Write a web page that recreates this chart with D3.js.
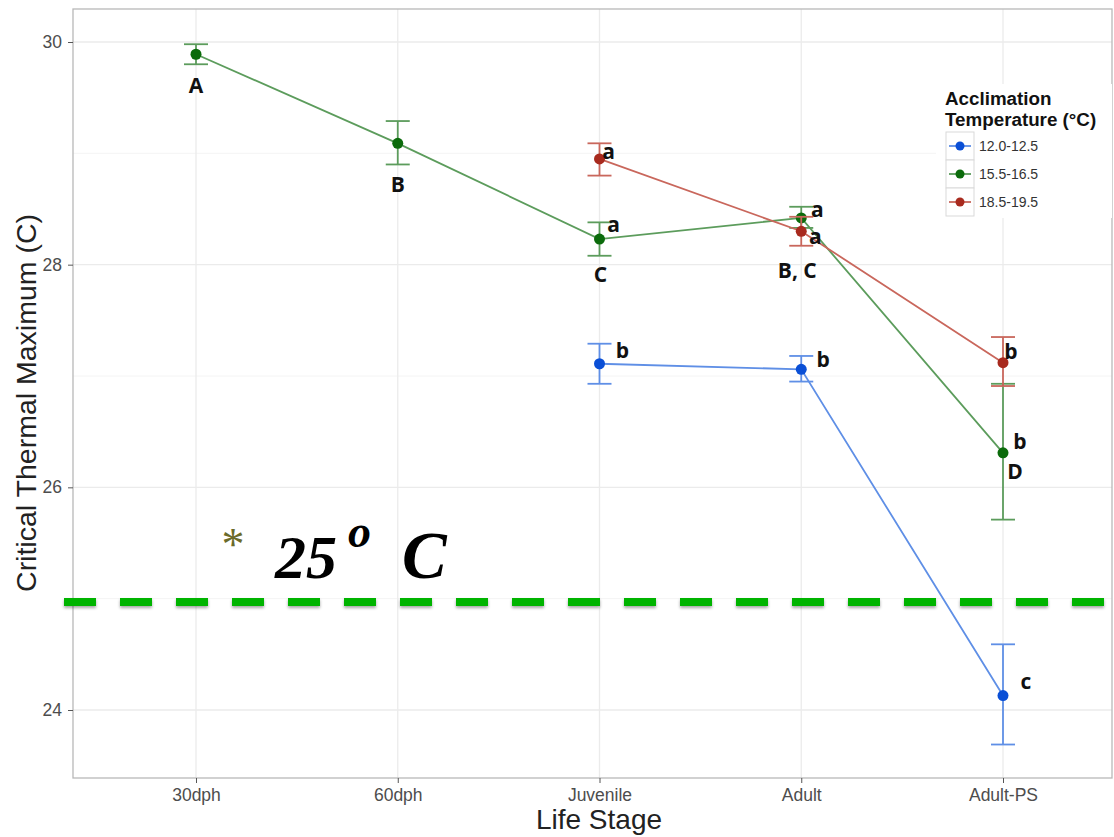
<!DOCTYPE html>
<html><head><meta charset="utf-8">
<script src="https://cdn.jsdelivr.net/npm/d3@7"></script>
<style>body{margin:0;background:#fff}svg{display:block}</style>
</head><body>
<svg id="c" width="1114" height="837"></svg>
<script>
const stages = ["30dph","60dph","Juvenile","Adult","Adult-PS"];
const groups = ["12.0-12.5","15.5-16.5","18.5-19.5"];
const colors = ["#0a4fd6","#0b6b0b","#a82a1e"];
const lineColors = ["#5f8fe6","#5c9c5c","#c9675c"];
// series: [stage, mean, low, high]
const blueSeries = [["Juvenile",27.11,26.93,27.29],["Adult",27.06,26.95,27.18],["Adult-PS",24.13,23.69,24.59]];
const greenSeries = [["30dph",29.89,29.80,29.98],["60dph",29.09,28.90,29.29],["Juvenile",28.23,28.08,28.38],["Adult",28.42,28.33,28.52],["Adult-PS",26.31,25.71,26.93]];
const redSeries = [["Juvenile",28.95,28.80,29.09],["Adult",28.30,28.17,28.43],["Adult-PS",27.12,26.91,27.35]];
const yTicks = [24,26,28,30];
const yMinor = [25,27,29];
const threshold = 24.97;
// letter annotations: [stage, value, text]
const letters = [
  ["30dph",29.89,"A"],["60dph",29.09,"B"],["Juvenile",28.23,"C"],["Adult",28.42,"B, C"],["Adult-PS",26.31,"D"],
  ["Juvenile",28.95,"a"],["Juvenile",28.23,"a"],["Adult",28.42,"a"],["Adult",28.30,"a"],
  ["Juvenile",27.11,"b"],["Adult",27.06,"b"],["Adult-PS",27.12,"b"],["Adult-PS",26.31,"b"],["Adult-PS",24.13,"c"]
];
const letterOffsets = [[0,31],[0,41],[1,36],[-4,53],[12,19],[9,-7],[14,-14],[16,-8],[14,5],[23,-13],[22,-10],[8,-11],[17,-11],[23,-14]];

const svg = d3.select("#c");
const P = {l:73, r:1112, t:9, b:778};
const x = d3.scalePoint().domain(stages).range([196,1003]);
const y = d3.scaleLinear().domain([24,30]).range([710,42]);

// panel
svg.append("rect").attr("x",P.l).attr("y",P.t).attr("width",P.r-P.l).attr("height",P.b-P.t).attr("fill","#fff");
const g = svg.append("g");
g.selectAll(".ymin").data(yMinor).join("line").attr("x1",P.l).attr("x2",P.r).attr("y1",d=>y(d)).attr("y2",d=>y(d)).attr("stroke","#f4f4f4").attr("stroke-width",1);
g.selectAll(".ymaj").data(yTicks).join("line").attr("x1",P.l).attr("x2",P.r).attr("y1",d=>y(d)).attr("y2",d=>y(d)).attr("stroke","#ebebeb").attr("stroke-width",1.3);
g.selectAll(".xmaj").data(stages).join("line").attr("x1",d=>x(d)).attr("x2",d=>x(d)).attr("y1",P.t).attr("y2",P.b).attr("stroke","#ebebeb").attr("stroke-width",1.3);
svg.append("rect").attr("x",P.l).attr("y",P.t).attr("width",P.r-P.l).attr("height",P.b-P.t).attr("fill","none").attr("stroke","#b8b8b8").attr("stroke-width",1.3);

// axes
const ya = svg.append("g").attr("transform",`translate(${P.l},0)`).call(d3.axisLeft(y).tickValues(yTicks).tickFormat(d3.format("d")).tickSize(5).tickPadding(6));
ya.select(".domain").remove();
ya.selectAll("line").attr("stroke","#555");
ya.selectAll("text").attr("font-family","Liberation Sans, Arial, sans-serif").attr("font-size",17.5).attr("fill","#4d4d4d");
const xa = svg.append("g").attr("transform",`translate(0,${P.b})`).call(d3.axisBottom(x).tickSize(5).tickPadding(6));
xa.select(".domain").remove();
xa.selectAll("line").attr("stroke","#555");
xa.selectAll("text").attr("font-family","Liberation Sans, Arial, sans-serif").attr("font-size",17.5).attr("fill","#4d4d4d");

svg.append("text").attr("x",599).attr("y",829).attr("text-anchor","middle").attr("font-family","Liberation Sans, Arial, sans-serif").attr("font-size",28).attr("fill","#222").text("Life Stage");
svg.append("text").attr("transform","translate(36,403) rotate(-90)").attr("text-anchor","middle").attr("font-family","Liberation Sans, Arial, sans-serif").attr("font-size",28.5).attr("fill","#222").text("Critical Thermal Maximum (C)");

// series
const all = [blueSeries, greenSeries, redSeries];
const line = d3.line().x(d=>x(d[0])).y(d=>y(d[1]));
all.forEach((s,i)=>{
  const sg = svg.append("g");
  sg.append("path").datum(s).attr("d",line).attr("fill","none").attr("stroke",lineColors[i]).attr("stroke-width",1.8);
  sg.selectAll(".eb").data(s).join("line").attr("x1",d=>x(d[0])).attr("x2",d=>x(d[0])).attr("y1",d=>y(d[2])).attr("y2",d=>y(d[3])).attr("stroke",lineColors[i]).attr("stroke-width",1.8);
  sg.selectAll(".ct").data(s).join("line").attr("x1",d=>x(d[0])-12).attr("x2",d=>x(d[0])+12).attr("y1",d=>y(d[3])).attr("y2",d=>y(d[3])).attr("stroke",lineColors[i]).attr("stroke-width",1.8);
  sg.selectAll(".cb").data(s).join("line").attr("x1",d=>x(d[0])-12).attr("x2",d=>x(d[0])+12).attr("y1",d=>y(d[2])).attr("y2",d=>y(d[2])).attr("stroke",lineColors[i]).attr("stroke-width",1.8);
  sg.selectAll("circle").data(s).join("circle").attr("cx",d=>x(d[0])).attr("cy",d=>y(d[1])).attr("r",5.5).attr("fill",colors[i]);
});

// letters
svg.append("g").selectAll("text").data(letters).join("text")
  .attr("x",(d,i)=>x(d[0])+letterOffsets[i][0]).attr("y",(d,i)=>y(d[1])+letterOffsets[i][1])
  .attr("text-anchor","middle")
  .attr("dy","0.35em")
  .attr("font-family","Open Sans, Liberation Sans, sans-serif").attr("font-weight","bold").attr("font-size",21).attr("fill","#111")
  .text(d=>d[2]);

// threshold dashed line with shadow
const defs = svg.append("defs");
const f = defs.append("filter").attr("id","sh").attr("filterUnits","userSpaceOnUse").attr("x",0).attr("y",580).attr("width",1114).attr("height",50);
f.append("feDropShadow").attr("dx",0).attr("dy",2).attr("stdDeviation",1.5).attr("flood-color","#000").attr("flood-opacity",0.35);
svg.append("line").attr("x1",64).attr("x2",1106).attr("y1",y(threshold)).attr("y2",y(threshold))
  .attr("stroke","#00b400").attr("stroke-width",8).attr("stroke-dasharray","32,24").attr("filter","url(#sh)");

// 25 C annotation
svg.append("text").attr("x",233).attr("y",560).attr("text-anchor","middle").attr("font-family","Liberation Serif, serif").attr("font-size",46).attr("fill","#6b6b2a").text("*");
const t = svg.append("text").attr("x",275).attr("y",578).attr("font-family","Liberation Serif, Times New Roman, serif").attr("font-style","italic").attr("font-weight","bold").attr("font-size",62).attr("fill","#000");
t.append("tspan").text("25");
t.append("tspan").attr("x",348).attr("y",547).attr("font-size",46).text("o");
t.append("tspan").attr("x",402).attr("y",578).attr("font-size",67).text("C");

// legend
const L = svg.append("g");
L.append("rect").attr("x",936).attr("y",84).attr("width",176).attr("height",134).attr("fill","#fff");
L.append("text").attr("x",945).attr("y",105).attr("font-family","Liberation Sans, Arial, sans-serif").attr("font-weight","bold").attr("font-size",18.8).attr("fill","#111").text("Acclimation");
L.append("text").attr("x",945).attr("y",126).attr("font-family","Liberation Sans, Arial, sans-serif").attr("font-weight","bold").attr("font-size",18.8).attr("fill","#111").text("Temperature (°C)");
const ky = d3.scaleBand().domain(groups).range([132,216]);
const kg = L.selectAll(".k").data(groups).join("g").attr("transform",d=>`translate(946,${ky(d)})`);
kg.append("rect").attr("width",28).attr("height",ky.bandwidth()).attr("fill","#fff").attr("stroke","#d9d9d9").attr("stroke-width",1);
kg.append("line").attr("x1",3).attr("x2",25).attr("y1",ky.bandwidth()/2).attr("y2",ky.bandwidth()/2).attr("stroke",(d,i)=>lineColors[i]).attr("stroke-width",1.8);
kg.append("circle").attr("cx",14).attr("cy",ky.bandwidth()/2).attr("r",4.5).attr("fill",(d,i)=>colors[i]);
kg.append("text").attr("x",33).attr("y",ky.bandwidth()/2).attr("dy","0.35em").attr("font-family","Liberation Sans, Arial, sans-serif").attr("font-size",14).attr("fill","#333").text(d=>d);
</script>
</body></html>
